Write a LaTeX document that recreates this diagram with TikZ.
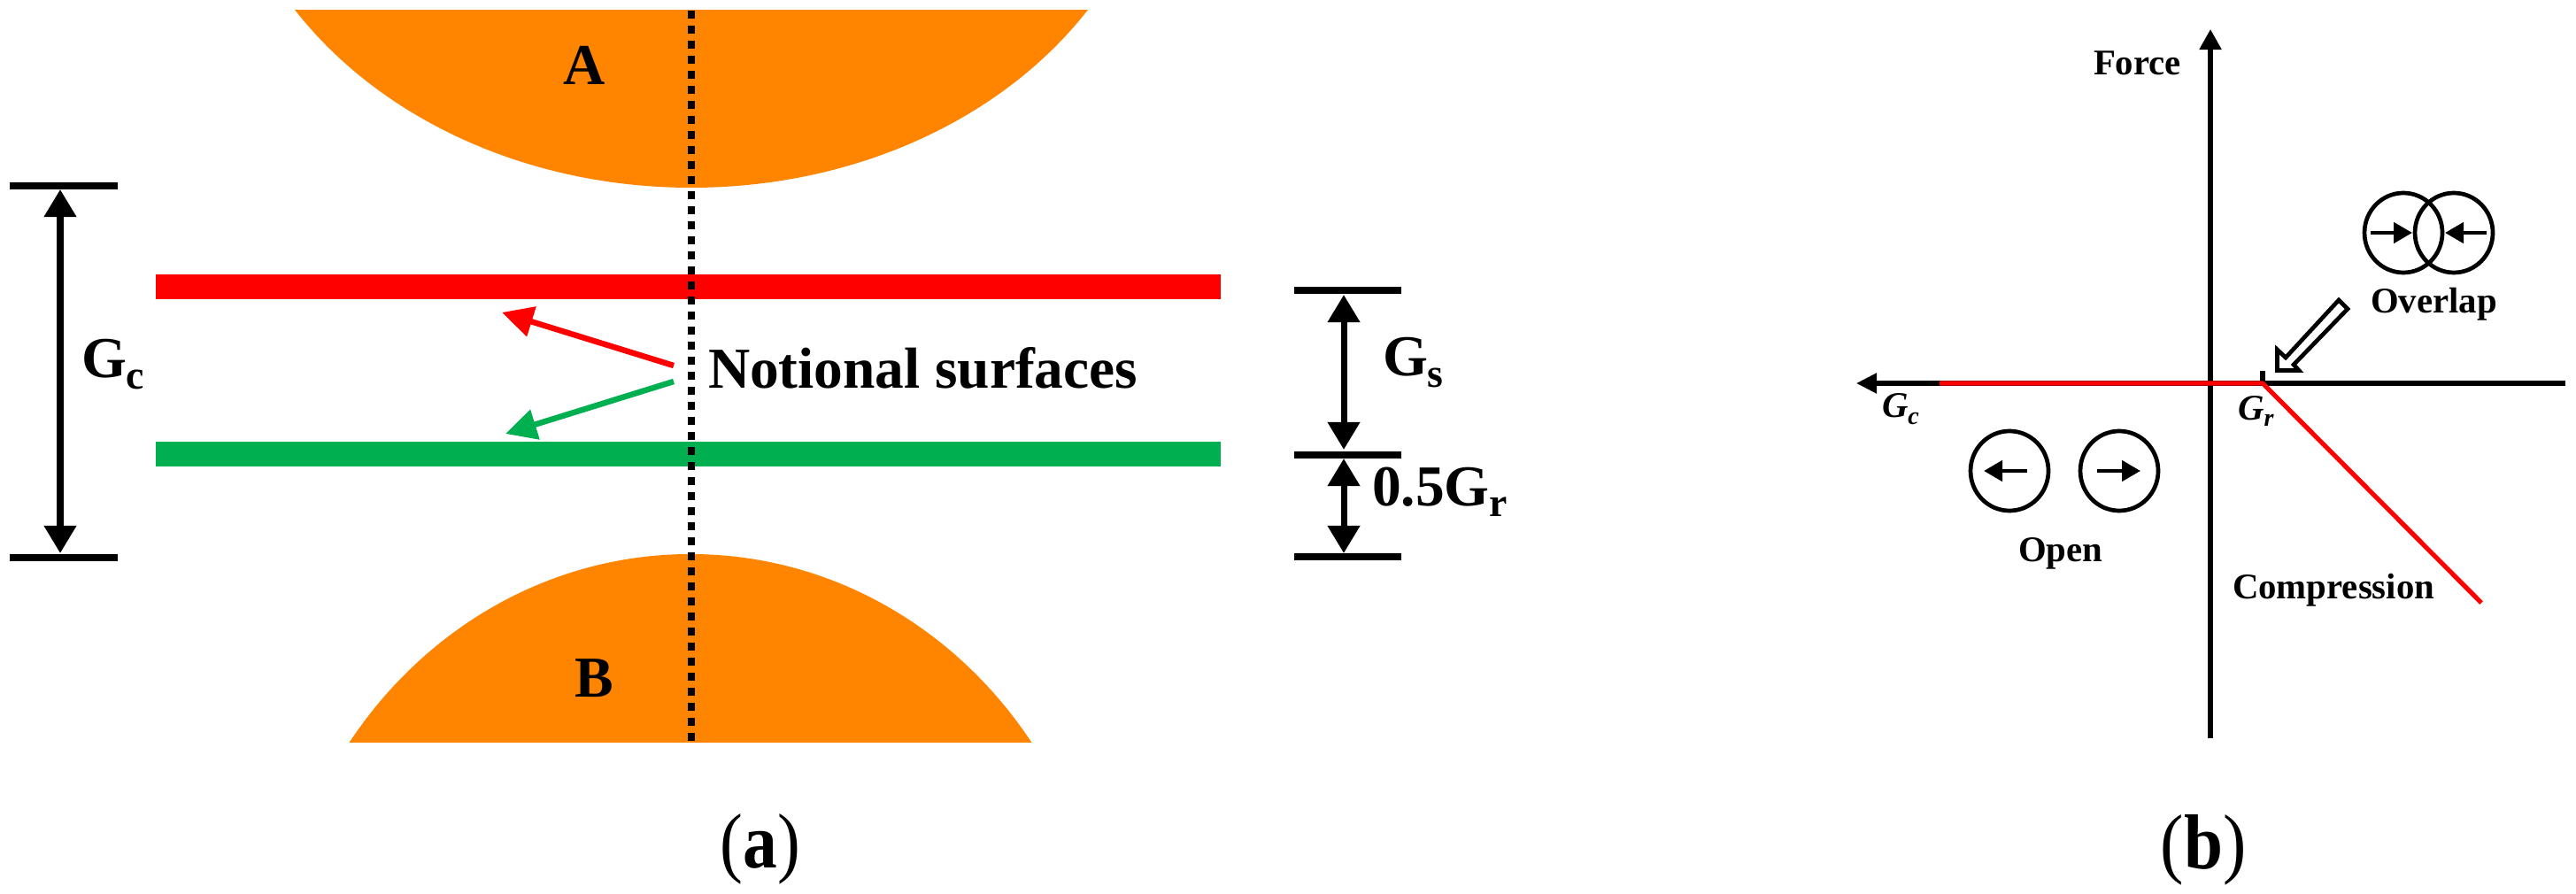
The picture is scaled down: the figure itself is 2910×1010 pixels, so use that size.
\documentclass[tikz,border=0pt]{standalone}
\usepackage{graphicx}
\usepackage{fontspec}
\setmainfont{Liberation Serif}
\usetikzlibrary{arrows.meta}
\definecolor{bodyorange}{HTML}{FF8400}
\definecolor{surfgreen}{HTML}{00B050}
\definecolor{surfred}{HTML}{FF0000}
\newcommand\bigT{\fontsize{18.6}{21}\selectfont\bfseries}
\newcommand\smT{\fontsize{11.6}{14}\selectfont\bfseries}
\newcommand\capT{\fontsize{25}{28}\selectfont}
\newcommand\lowb[1]{\raisebox{-0.12cm}{\fontsize{13}{15}\selectfont\bfseries #1}}
\newcommand\lows[1]{\raisebox{-0.07cm}{\fontsize{8}{10}\selectfont\bfseries\itshape #1}}
\tikzset{
  x=0.01cm,y=-0.01cm,
  lbl/.style={inner sep=0pt,outer sep=0pt,anchor=base west},
  bigl/.style={lbl,font=\bigT},
  sml/.style={lbl,font=\smT},
  capl/.style={inner sep=0pt,outer sep=0pt,anchor=base,font=\capT},
  dimbar/.style={line width=0.085cm,black},
  dimarrow/.style={line width=0.07cm,black,{Triangle[length=3.1mm,width=3.5mm]}-{Triangle[length=3.1mm,width=3.5mm]}},
  surface/.style={line width=0.28cm},
  notearrow/.style={line width=0.065cm,-{Triangle[length=3.5mm,width=3.4mm]}},
  axisline/.style={line width=0.052cm,black},
  redcurve/.style={line width=0.052cm,surfred},
  gapring/.style={line width=0.047cm,black},
  smallarrow/.style={line width=0.047cm,black,-{Triangle[length=2.1mm,width=2.3mm]}}
}
\begin{document}
\begin{tikzpicture}
\path[fill=white,use as bounding box] (0,0) rectangle (2910,1010);
% bodies
\begin{scope}
  \clip (0,12) rectangle (1500,400);
  \fill[bodyorange] (781,-220) ellipse [x radius=530,y radius=432];
\end{scope}
\begin{scope}
  \clip (0,500) rectangle (1500,838);
  \fill[bodyorange] (780,1124) ellipse [x radius=470,y radius=498];
\end{scope}
% notional surfaces
\coordinate (redL) at (176,324); \coordinate (redR) at (1379,324);
\coordinate (grnL) at (176,513); \coordinate (grnR) at (1379,513);
\draw[surface,surfred] (redL) -- (redR);
\draw[surface,surfgreen] (grnL) -- (grnR);
% dotted centre line
\coordinate (dotT) at (781,12); \coordinate (dotB) at (781,838);
\draw[line width=0.08cm,black,dash pattern=on 0.09cm off 0.08cm] (dotT) -- (dotB);
% labels
\node[bigl] (lA) at (636,96) {A};
\node[bigl] (lB) at (649,787) {B};
\node[bigl] (notional) at (800,439) {Notional surfaces};
\node[bigl] (lGc) at (92,427) {G\lowb{c}};
\node[bigl] (lGs) at (1562,425) {G\lowb{s}};
\node[bigl] (lGr) at (1550,571) {0.5G\lowb{r}};
% note arrows
\coordinate (rs) at (761,413); \coordinate (re) at (567,353);
\coordinate (gs) at (761,431); \coordinate (ge) at (571,490);
\draw[notearrow,surfred] (rs) -- (re);
\draw[notearrow,surfgreen] (gs) -- (ge);
% dimension Gc
\coordinate (c1a) at (11,210); \coordinate (c1b) at (133,210);
\coordinate (c2a) at (11,630); \coordinate (c2b) at (133,630);
\coordinate (c1m) at (68,214); \coordinate (c2m) at (68,625);
\draw[dimbar] (c1a) -- (c1b);
\draw[dimbar] (c2a) -- (c2b);
\draw[dimarrow] (c1m) -- (c2m);
% dimension Gs / 0.5Gr
\coordinate (s1a) at (1462,328); \coordinate (s1b) at (1583,328);
\coordinate (s2a) at (1462,514); \coordinate (s2b) at (1583,514);
\coordinate (s3a) at (1462,629); \coordinate (s3b) at (1583,629);
\coordinate (s1m) at (1518,333); \coordinate (s2m) at (1518,508);
\coordinate (s2n) at (1518,518); \coordinate (s3m) at (1518,625);
\draw[dimbar] (s1a) -- (s1b);
\draw[dimbar] (s2a) -- (s2b);
\draw[dimbar] (s3a) -- (s3b);
\draw[dimarrow] (s1m) -- (s2m);
\draw[dimarrow] (s2n) -- (s3m);
% panel b axes
\coordinate (yT) at (2497,33); \coordinate (yB) at (2497,834);
\coordinate (xL) at (2097,433); \coordinate (xR) at (2898,433);
\draw[axisline,-{Triangle[length=2.3mm,width=2.4mm]}] (yB) -- (yT);
\draw[axisline,-{Triangle[length=2.3mm,width=2.2mm]}] (xR) -- (xL);
\coordinate (tk1) at (2556,419); \coordinate (corner) at (2556,433);
\draw[axisline] (tk1) -- (corner);
\coordinate (curveL) at (2191,433); \coordinate (curveE) at (2803,681);
\draw[redcurve,line join=round] (curveL) -- (corner) -- (curveE);
% hollow arrow
\draw[line width=0.047cm,black,line join=miter,fill=white]
  (2572.5,418.5) -- (2572.5,395) -- (2582,404) -- (2642,339) -- (2652,349)
  -- (2591,412) -- (2597,418.5) -- cycle;
% overlap circles
\draw[gapring] (2715,263) ellipse [x radius=44,y radius=45];
\draw[gapring] (2772,263) ellipse [x radius=44,y radius=45];
\coordinate (ov1s) at (2678,263); \coordinate (ov1e) at (2725,263);
\coordinate (ov2s) at (2809,263); \coordinate (ov2e) at (2762,263);
\draw[smallarrow] (ov1s) -- (ov1e);
\draw[smallarrow] (ov2s) -- (ov2e);
% open circles
\draw[gapring] (2270,532) ellipse [x radius=44,y radius=45];
\draw[gapring] (2394,532) ellipse [x radius=44,y radius=45];
\coordinate (op1s) at (2290,532); \coordinate (op1e) at (2241,532);
\coordinate (op2s) at (2369,532); \coordinate (op2e) at (2418,532);
\draw[smallarrow] (op1s) -- (op1e);
\draw[smallarrow] (op2s) -- (op2e);
% panel b labels
\node[sml] (lForce) at (2365,85) {Force};
\node[sml] (lOverlap) at (2678,354) {Overlap};
\node[sml] (lOpen) at (2280,634) {Open};
\node[sml] (lComp) at (2522,676) {Compression};
\node[sml,font=\smT\itshape] (lGcb) at (2126,472) {G\lows{c}};
\node[sml,font=\smT\itshape] (lGrb) at (2528,475) {G\lows{r}};
% captions
\node[capl] (capa) at (859,980) {\scalebox{0.88}[1]{(\textbf{a})}};
\node[capl] (capb) at (2489,981) {\scalebox{0.9}[1]{(\textbf{b})}};
\end{tikzpicture}
\end{document}
